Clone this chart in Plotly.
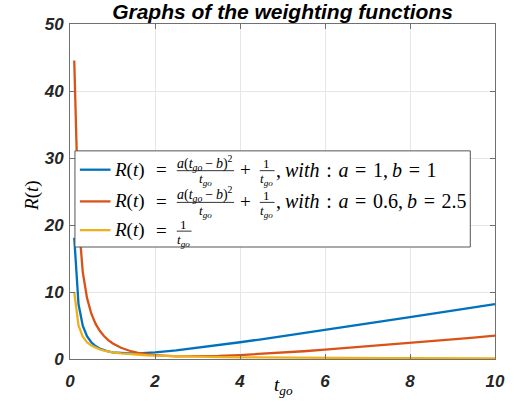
import plotly.graph_objects as go

# ---- data ----
t = [0.1, 0.2, 0.3, 0.4, 0.5, 0.6, 0.7, 0.8, 0.9, 1.0, 1.2, 1.4, 1.6, 1.8, 2.0,
     2.5, 3.0, 3.5, 4.0, 4.5, 5.0, 5.5, 6.0, 6.5, 7.0, 7.5, 8.0, 8.5, 9.0, 9.5, 10.0]
r_ab_1_1 = [18.1, 8.2, 4.97, 3.4, 2.5, 1.93, 1.56, 1.3, 1.12, 1.0, 0.87, 0.83, 0.85, 0.91, 1.0,
            1.3, 1.67, 2.07, 2.5, 2.94, 3.4, 3.86, 4.33, 4.81, 5.29, 5.77, 6.25, 6.74, 7.22, 7.71, 8.2]
r_ab_06_25 = [44.56, 20.87, 13.01, 9.12, 6.8, 5.28, 4.21, 3.42, 2.82, 2.35, 1.68, 1.23, 0.93, 0.72, 0.58,
              0.4, 0.38, 0.46, 0.59, 0.76, 0.95, 1.16, 1.39, 1.63, 1.88, 2.13, 2.39, 2.66, 2.93, 3.2, 3.48]
r_inv = [10.0, 5.0, 3.33, 2.5, 2.0, 1.67, 1.43, 1.25, 1.11, 1.0, 0.83, 0.71, 0.63, 0.56, 0.5,
         0.4, 0.33, 0.29, 0.25, 0.22, 0.2, 0.18, 0.17, 0.15, 0.14, 0.13, 0.125, 0.12, 0.11, 0.105, 0.1]
series = [r_ab_1_1, r_ab_06_25, r_inv]
x_ticks = [0, 2, 4, 6, 8, 10]
y_ticks = [0, 10, 20, 30, 40, 50]
title_text = "Graphs of the weighting functions"
param_a = ["1", "0.6", None]
param_b = ["1", "2.5", None]

colors = ["#0072BD", "#D95319", "#EDB120"]
W, H = 517, 403
L, R, T, B = 70, 500, 24, 362

fig = go.Figure()
for ys, c in zip(series, colors):
    fig.add_trace(go.Scatter(x=t, y=ys, mode="lines", line=dict(color=c, width=2.3),
                             showlegend=False, hoverinfo="skip"))

def fx(px):
    return (px - L) / (R - L)

def fy(py):
    return (B - py) / (B - T)

shapes = []
annotations = []
SERIF = "Liberation Serif"

def txt(x, y, s, size, anchor="left", angle=0):
    annotations.append(dict(xref="paper", yref="paper", x=fx(x), y=fy(y), text=s,
                            showarrow=False, xanchor=anchor, yanchor="middle", textangle=angle,
                            borderpad=0,
                            font=dict(family=SERIF, size=size, color="#000000")))

def hline(x0, x1, y, color, width):
    shapes.append(dict(type="line", xref="paper", yref="paper", x0=fx(x0), x1=fx(x1),
                       y0=fy(y), y1=fy(y), line=dict(color=color, width=width), layer="above"))

# legend box
shapes.append(dict(type="rect", xref="paper", yref="paper", x0=fx(75), x1=fx(475),
                   y0=fy(249), y1=fy(152), fillcolor="white",
                   line=dict(color="#555555", width=1), layer="above"))

TGO = "<i>t</i><sub><i>go</i></sub>"
SP = "\u2004"
TH = "\u2009"
rows = [171, 203, 232]
for i, (ry, c) in enumerate(zip(rows, colors)):
    hline(80, 111, ry, c, 2.3)
    txt(113, ry, "<i>R</i>(<i>t</i>)", 19)
    txt(163, ry, "=", 19, "center")
    if param_a[i] is not None:
        txt(207, ry - 7, "<i>a</i>(" + TGO + TH + "−" + TH + "<i>b</i>)<sup>2</sup>", 14, "center")
        hline(178, 236, ry + 1, "#000000", 0.8)
        txt(207, ry + 10, TGO, 13, "center")
        txt(247.5, ry, "+", 19, "center")
        txt(269, ry - 6, "1", 13, "center")
        hline(262, 277, ry + 1, "#000000", 0.8)
        txt(269, ry + 10, TGO, 13, "center")
        tail = (",<i>" + TH + "with</i>" + SP + ":" + SP + "<i>a</i>" + SP + "=" + SP + param_a[i]
                + "," + TH + "<i>b</i>" + SP + "=" + SP + param_b[i])
        txt(277, ry, tail, 20)
    else:
        txt(185, ry - 6, "1", 13, "center")
        hline(178, 193, ry + 1, "#000000", 0.8)
        txt(185, ry + 10, TGO, 13, "center")

# axis labels
txt(32, 197, "<i>R</i>(<i>t</i>)", 19, "center", -90)
txt(286, 389, TGO, 19, "center")

tickfont = dict(family="Liberation Sans", size=17, color="#262626", weight="bold", style="italic")
axis_common = dict(showgrid=True, gridcolor="#e6e6e6", gridwidth=1, showline=True,
                   linecolor="#707070", linewidth=1, mirror="ticks", ticks="inside",
                   ticklen=5, tickcolor="#707070", zeroline=False, tickfont=tickfont)

fig.update_layout(
    width=W, height=H,
    margin=dict(l=L, r=W - R, t=T, b=H - B, pad=0),
    paper_bgcolor="white", plot_bgcolor="white",
    title=dict(text="<b><i>" + title_text + "</i></b>", x=0.5, xref="paper",
               y=1 - 12 / H, yref="container", yanchor="middle", xanchor="center",
               font=dict(family="Liberation Sans", size=21, color="#000000")),
    xaxis=dict(range=[0, 10], tickvals=x_ticks, ticklabelstandoff=7, **axis_common),
    yaxis=dict(range=[0, 50], tickvals=y_ticks, ticklabelstandoff=2, **axis_common),
    shapes=shapes, annotations=annotations,
)

fig.write_html("out.html")
